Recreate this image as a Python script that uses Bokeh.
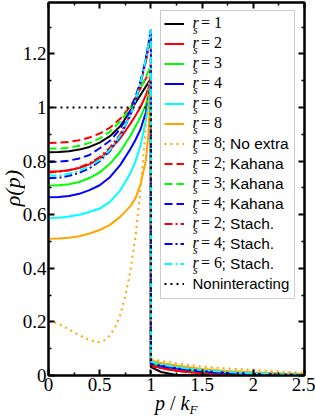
from bokeh.plotting import figure
from bokeh.models import FixedTicker, LinearAxis, Legend, LegendItem, Label, Range1d, Div, BoxAnnotation
from bokeh.layouts import column
from bokeh.embed import file_html
from bokeh.resources import INLINE

# ---------------- data ----------------
p_in = [0.0, 0.1, 0.2, 0.3, 0.4, 0.5, 0.6, 0.7, 0.8, 0.85, 0.9, 0.95, 0.975, 1.0]
p_tail = [1.0, 1.1, 1.25, 1.5, 1.75, 2.0, 2.25, 2.5]

rs1_in = [0.833, 0.834, 0.837, 0.843, 0.853, 0.869, 0.893, 0.93, 0.988, 1.018, 1.048, 1.078, 1.093, 1.107]
rs2_in = [0.761, 0.762, 0.766, 0.774, 0.788, 0.81, 0.842, 0.885, 0.94, 0.97, 1.003, 1.045, 1.073, 1.105]
rs3_in = [0.709, 0.71, 0.714, 0.722, 0.737, 0.758, 0.79, 0.835, 0.895, 0.93, 0.966, 1.01, 1.05, 1.10]
rs4_in = [0.665, 0.666, 0.67, 0.678, 0.692, 0.71, 0.74, 0.785, 0.845, 0.88, 0.92, 0.98, 1.03, 1.10]
rs6_in = [0.588, 0.589, 0.593, 0.6, 0.61, 0.623, 0.648, 0.69, 0.755, 0.8, 0.86, 0.95, 1.01, 1.09]
rs8_in = [0.51, 0.511, 0.514, 0.52, 0.53, 0.543, 0.562, 0.592, 0.632, 0.662, 0.715, 0.8, 0.9, 1.09]

rs1_tail = [0.031, 0.013, 0.002, 0.0, 0.0, 0.0, 0.0, 0.0]
rs2_tail = [0.037, 0.028, 0.018, 0.007, 0.003, 0.001, 0.0, 0.0]
rs3_tail = [0.047, 0.037, 0.027, 0.014, 0.008, 0.004, 0.002, 0.001]
rs4_tail = [0.044, 0.035, 0.026, 0.015, 0.009, 0.005, 0.003, 0.002]
rs6_tail = [0.052, 0.042, 0.032, 0.02, 0.013, 0.008, 0.005, 0.004]
rs8_tail = [0.056, 0.047, 0.037, 0.024, 0.017, 0.012, 0.008, 0.006]

p_noextra = [0.0, 0.1, 0.2, 0.3, 0.4, 0.48, 0.55, 0.6, 0.65, 0.7, 0.75, 0.8, 0.85, 0.9, 0.95, 1.0]
rs8_noextra_in = [0.205, 0.193, 0.172, 0.15, 0.133, 0.124, 0.132, 0.15, 0.18, 0.225, 0.295, 0.39, 0.52, 0.7, 0.93, 1.2]
rs8_noextra_tail = [0.062, 0.054, 0.045, 0.033, 0.026, 0.021, 0.015, 0.011]

kah2_in = [0.868, 0.869, 0.872, 0.878, 0.888, 0.903, 0.925, 0.958, 1.005, 1.038, 1.072, 1.108, 1.126, 1.145]
kah3_in = [0.846, 0.847, 0.85, 0.857, 0.868, 0.885, 0.91, 0.948, 1.0, 1.035, 1.073, 1.113, 1.135, 1.158]
kah4_in = [0.797, 0.798, 0.802, 0.81, 0.823, 0.848, 0.876, 0.92, 0.99, 1.04, 1.1, 1.18, 1.235, 1.29]
kah2_tail = [0.038, 0.029, 0.019, 0.008, 0.004, 0.002, 0.001, 0.0]
kah3_tail = [0.046, 0.036, 0.026, 0.014, 0.008, 0.004, 0.002, 0.001]
kah4_tail = [0.045, 0.036, 0.027, 0.016, 0.01, 0.006, 0.004, 0.002]

st2_in = [0.758, 0.76, 0.766, 0.776, 0.792, 0.815, 0.85, 0.9, 0.975, 1.025, 1.09, 1.17, 1.215, 1.26]
st4_in = [0.736, 0.738, 0.745, 0.756, 0.773, 0.8, 0.838, 0.893, 0.97, 1.025, 1.095, 1.18, 1.235, 1.29]
st6_in = [0.745, 0.747, 0.753, 0.764, 0.78, 0.805, 0.842, 0.895, 0.972, 1.027, 1.095, 1.18, 1.235, 1.29]
st2_tail = [0.036, 0.027, 0.017, 0.007, 0.003, 0.001, 0.0, 0.0]
st4_tail = [0.045, 0.035, 0.026, 0.015, 0.009, 0.005, 0.003, 0.002]
st6_tail = [0.051, 0.041, 0.031, 0.02, 0.013, 0.008, 0.005, 0.004]

p_nonint = [0.0, 1.0, 1.0, 2.5]
nonint = [1.0, 1.0, 0.0, 0.0]

x_ticks = [0.0, 0.5, 1.0, 1.5, 2.0, 2.5]
x_tick_labels = ["0", "0.5", "1", "1.5", "2", "2.5"]
x_minor = [0.25, 0.75, 1.25, 1.75, 2.25]
y_ticks = [0.0, 0.2, 0.4, 0.6, 0.8, 1.0, 1.2]
y_tick_labels = ["0", "0.2", "0.4", "0.6", "0.8", "1", "1.2"]
y_minor = [0.1, 0.3, 0.5, 0.7, 0.9, 1.1, 1.3]

# label number, suffix, colour, dash, p, inner, tail
series = [
    ("1", "", "black", "solid", p_in, rs1_in, rs1_tail),
    ("2", "", "#ff0000", "solid", p_in, rs2_in, rs2_tail),
    ("3", "", "#00ff00", "solid", p_in, rs3_in, rs3_tail),
    ("4", "", "#0000ff", "solid", p_in, rs4_in, rs4_tail),
    ("6", "", "#00ffff", "solid", p_in, rs6_in, rs6_tail),
    ("8", "", "#ffa500", "solid", p_in, rs8_in, rs8_tail),
    ("8", "; No extra", "#ffa500", "2 4", p_noextra, rs8_noextra_in, rs8_noextra_tail),
    ("2", "; Kahana", "#ff0000", "8 4", p_in, kah2_in, kah2_tail),
    ("3", "; Kahana", "#00ff00", "8 4", p_in, kah3_in, kah3_tail),
    ("4", "; Kahana", "#0000ff", "8 4", p_in, kah4_in, kah4_tail),
    ("2", "; Stach.", "#ff0000", "8 3 2 3", p_in, st2_in, st2_tail),
    ("4", "; Stach.", "#0000ff", "8 3 2 3", p_in, st4_in, st4_tail),
    ("6", "; Stach.", "#00ffff", "8 3 2 3", p_in, st6_in, st6_tail),
]

# ---------------- figure ----------------
p = figure(width=315, height=417, output_backend="svg", toolbar_location=None,
           x_range=Range1d(0, 2.5), y_range=Range1d(0, 1.392),
           min_border_left=48, min_border_right=11, min_border_top=2, min_border_bottom=42,
           x_axis_type=None, y_axis_type=None)
p.xgrid.visible = False
p.ygrid.visible = False
p.outline_line_color = "black"
p.outline_line_width = 2
p.background_fill_color = "white"
p.border_fill_color = "white"

xt = FixedTicker(ticks=x_ticks, minor_ticks=x_minor)
yt = FixedTicker(ticks=y_ticks, minor_ticks=y_minor)


def style_axis(ax, labels):
    ax.axis_line_width = 2
    ax.major_tick_in = 6
    ax.major_tick_out = 0
    ax.minor_tick_in = 3
    ax.minor_tick_out = 0
    ax.major_tick_line_width = 2
    ax.minor_tick_line_width = 1.5
    if labels:
        ax.major_label_text_font = "Liberation Serif"
        ax.major_label_text_font_size = "19px"
        ax.major_label_text_color = "black"
    else:
        ax.major_label_text_font_size = "0px"
        ax.major_label_standoff = 0
        ax.major_label_text_color = None


bx = LinearAxis(ticker=xt, major_label_overrides=dict(zip(x_ticks, x_tick_labels)))
style_axis(bx, True)
bx.major_label_standoff = 2
p.add_layout(bx, "below")
ly = LinearAxis(ticker=yt, major_label_overrides=dict(zip(y_ticks, y_tick_labels)))
style_axis(ly, True)
ly.major_label_standoff = 2
p.add_layout(ly, "left")
tx = LinearAxis(ticker=xt)
style_axis(tx, False)
p.add_layout(tx, "above")
ry = LinearAxis(ticker=yt)
style_axis(ry, False)
p.add_layout(ry, "right")

renderers = []
for num, suf, col, dash, px, vin, vt in series:
    r = p.line(px + p_tail, vin + vt, line_color=col, line_width=2, line_dash=dash)
    renderers.append(r)
rn = p.line(p_nonint, nonint, line_color="black", line_width=2, line_dash="2 4")
renderers.append(rn)

# ---------------- legend ----------------
LEG_X, LEG_Y = 112, 79
PAD, GH, SP = 4, 17, 3
items = [LegendItem(label=" ", renderers=[r]) for r in renderers]
legend = Legend(items=items, location=(LEG_X, LEG_Y), padding=PAD, spacing=SP,
                glyph_width=20, glyph_height=GH, label_height=GH, label_width=98,
                label_standoff=8, label_text_font_size="1px", margin=0,
                border_line_alpha=0.0,
                background_fill_color="white", background_fill_alpha=0.0)
p.add_layout(legend)

n_rows = len(items)
leg_h = 2 * PAD + n_rows * GH + (n_rows - 1) * SP
top_s = LEG_Y + leg_h  # legend top in screen coords (from frame bottom)
tx0 = LEG_X + PAD + 20 + 8  # text start

# legend frame
p.add_layout(BoxAnnotation(left=LEG_X, right=LEG_X + 134, bottom=LEG_Y - 2, top=top_s + 1,
                           left_units="screen", right_units="screen",
                           bottom_units="screen", top_units="screen",
                           fill_alpha=0.0, line_color="#555555", line_width=1, level="overlay"))


def lab(x, y, text, font, size, style="normal"):
    p.add_layout(Label(x=x, y=y, x_units="screen", y_units="screen", text=text,
                       text_font=font, text_font_size=size, text_font_style=style,
                       text_align="left", text_baseline="middle",
                       text_color="black", level="overlay"))


for i, (num, suf, col, dash, px, vin, vt) in enumerate(series):
    yc = top_s - PAD - GH / 2 - i * (GH + SP)
    lab(tx0, yc + 1.5, "r", "Liberation Serif", "16px", "italic")
    lab(tx0 + 0.5, yc - 6, "s", "Liberation Serif", "12px", "italic")
    lab(tx0 + 8.5, yc + 1.5, "= " + num, "Liberation Serif", "16px")
    if suf:
        lab(tx0 + 29, yc + 1, suf, "Liberation Sans", "15.5px")
yc = top_s - PAD - GH / 2 - (n_rows - 1) * (GH + SP)
lab(tx0, yc + 1, "Noninteracting", "Liberation Sans", "15px")

# axis titles as HTML text (x title has a subscript), overlaid below/left of the frame
xlabel = Div(
    text=('<div style="font-family:\'Liberation Serif\',serif;font-size:20px;line-height:20px;'
          'white-space:nowrap;color:black;"><i>p</i> / <i>k</i>'
          '<sub style="font-size:13px;line-height:0;vertical-align:-4px;"><i>F</i></sub></div>'),
    width=60, height=24, margin=(-24, 0, 0, 155))
ylabel = Div(
    text=('<div style="font-family:\'Liberation Serif\',serif;font-size:22px;line-height:22px;'
          'font-style:italic;white-space:nowrap;color:black;writing-mode:vertical-rl;'
          'transform:rotate(180deg);">ρ(p)</div>'),
    width=22, height=247, margin=(-247, 0, 0, 2))

layout = column(p, xlabel, ylabel, spacing=0)
open("out.html", "w").write(file_html(layout, INLINE))
